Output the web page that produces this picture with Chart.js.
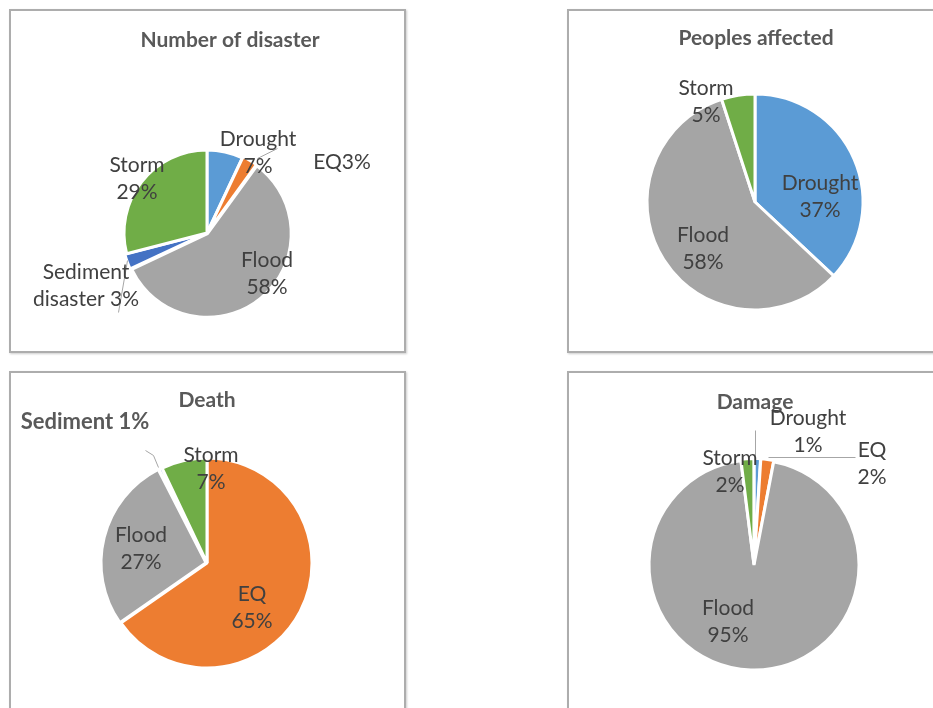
<!DOCTYPE html>
<html><head><meta charset="utf-8">
<script src="https://cdn.jsdelivr.net/npm/chart.js@4"></script>
<style>
html,body{margin:0;padding:0;background:#fff;width:933px;height:708px;overflow:hidden;position:relative}
.frame{position:absolute;border:2px solid #ADADAD;box-sizing:border-box;box-shadow:1px 1px 2px rgba(0,0,0,0.2)}
canvas{position:absolute}
</style></head><body>
<div class="frame" style="left:9px;top:9px;width:397px;height:344px"></div>
<div class="frame" style="left:567px;top:9px;width:400px;height:344px"></div>
<div class="frame" style="left:9px;top:371px;width:397px;height:400px"></div>
<div class="frame" style="left:567px;top:371px;width:400px;height:400px"></div>
<script>
// ---- data ----
const categories = ['Drought', 'EQ', 'Flood', 'Sediment disaster', 'Storm'];
const shortNames = ['Drought', 'EQ', 'Flood', 'Sediment', 'Storm'];
const numberOfDisasters = [7, 3, 58, 3, 29];
const peoplesAffected = [37, 0, 58, 0, 5];
const deaths = [0, 65, 27, 0.5, 7];
const damage = [1, 2, 95, 0, 2];
const titles = ['Number of disaster', 'Peoples affected', 'Death', 'Damage'];

// ---- style ----
const sliceColors = ['#5B9BD5', '#ED7D31', '#A5A5A5', '#4472C4', '#70AD47'];
const FONT = 'Lato, "Open Sans", sans-serif';

const panels = [
  { values: numberOfDisasters, title: titles[0], rect: [10, 10, 395, 342], center: [197, 223], r: 83,
    offsets: [0, 3, 3, 4, 0], titleAt: [23, -193],
    labels: [
      { i: 0, lines: ['{n}', '{p}'], at: [51, -80] },
      { i: 1, lines: ['{n}{p}'], at: [135, -71], leader: [[50, -75], [70, -85]] },
      { i: 2, lines: ['{n}', '{p}'], at: [60, 41] },
      { i: 3, lines: ['Sediment', 'disaster {p}'], at: [-121, 53], leader: [[-80, 27], [-89, 79]] },
      { i: 4, lines: ['{n}', '{p}'], at: [-70, -54] }
    ] },
  { values: peoplesAffected, title: titles[1], rect: [568, 10, 365, 342], center: [187, 192], r: 108,
    offsets: [0, 0, 0, 0, 0], titleAt: [1, -164],
    labels: [
      { i: 0, lines: ['{n}', '{p}'], at: [65, -5] },
      { i: 2, lines: ['{n}', '{p}'], at: [-52, 47] },
      { i: 4, lines: ['{n}', '{p}'], at: [-49, -100] }
    ] },
  { values: deaths, title: titles[2], rect: [10, 372, 395, 336], center: [197, 191], r: 105,
    offsets: [0, 0, 4, 0, 0], titleAt: [0, -163],
    labels: [
      { i: 1, lines: ['{n}', '{p}'], at: [45, 45] },
      { i: 2, lines: ['{n}', '{p}'], at: [-66, -14] },
      { i: 3, lines: ['{n} {p}'], at: [-122, -141], bold: true, leader: [[-62, -113], [-54, -108], [-49, -96]] },
      { i: 4, lines: ['{n}', '{p}'], at: [4, -94] }
    ] },
  { values: damage, title: titles[3], rect: [568, 372, 365, 336], center: [186, 193], r: 105,
    offsets: [3, 3, 0, 0, 3], titleAt: [1, -163],
    labels: [
      { i: 0, lines: ['{n}', '{p}'], at: [54, -133], leader: [[1, -135], [1, -110]] },
      { i: 1, lines: ['{n}', '{p}'], at: [118, -101], leader: [[14, -108], [101, -108]] },
      { i: 2, lines: ['{n}', '{p}'], at: [-26, 57] },
      { i: 4, lines: ['{n}', '{p}'], at: [-24, -93] }
    ] }
];

const labelPlugin = {
  id: 'pieLabels',
  afterDraw(chart) {
    const cfg = chart.options.plugins.pieLabels;
    const meta = chart.getDatasetMeta(0);
    const arc = meta.data[0];
    const cx = arc.x, cy = arc.y;
    const vals = chart.data.datasets[0].data;
    const total = vals.reduce((a, b) => a + b, 0);
    const ctx = chart.ctx;
    ctx.save();
    ctx.textAlign = 'center';
    ctx.textBaseline = 'middle';
    // title
    ctx.fillStyle = '#595959';
    ctx.font = 'bold 21px ' + FONT;
    ctx.fillText(cfg.title, cx + cfg.titleAt[0], cy + cfg.titleAt[1]);
    // leaders
    ctx.strokeStyle = '#A6A6A6';
    ctx.lineWidth = 1;
    cfg.labels.forEach(l => {
      if (!l.leader) return;
      ctx.beginPath();
      l.leader.forEach((p, k) => {
        const x = cx + p[0] + 0.5, y = cy + p[1] + 0.5;
        if (k === 0) ctx.moveTo(x, y); else ctx.lineTo(x, y);
      });
      ctx.stroke();
    });
    // labels
    const lh = 27;
    cfg.labels.forEach(l => {
      const pct = Math.round(vals[l.i] / total * 100) + '%';
      const name = shortNames[l.i];
      ctx.font = (l.bold ? 'bold 22px ' : '21px ') + FONT;
      ctx.fillStyle = l.bold ? '#595959' : '#404040';
      const n = l.lines.length;
      l.lines.forEach((t, k) => {
        const txt = t.replace('{n}', name).replace('{p}', pct);
        ctx.fillText(txt, cx + l.at[0], cy + l.at[1] + (k - (n - 1) / 2) * lh);
      });
    });
    ctx.restore();
  }
};

panels.forEach(p => {
  const [x0, y0, w, h] = p.rect;
  const cv = document.createElement('canvas');
  cv.width = w; cv.height = h;
  cv.style.left = x0 + 'px'; cv.style.top = y0 + 'px';
  cv.style.width = w + 'px'; cv.style.height = h + 'px';
  document.body.appendChild(cv);
  const m = 12;
  const [lx, ly] = p.center;
  new Chart(cv, {
    type: 'pie',
    data: {
      labels: categories,
      datasets: [{
        data: p.values,
        backgroundColor: sliceColors,
        borderColor: '#FFFFFF',
        borderWidth: 3,
        offset: p.offsets
      }]
    },
    options: {
      responsive: false,
      animation: false,
      devicePixelRatio: 1,
      radius: p.r,
      layout: { padding: { left: lx - p.r - m, right: w - lx - p.r - m, top: ly - p.r - m, bottom: h - ly - p.r - m } },
      plugins: {
        legend: { display: false },
        tooltip: { enabled: false },
        title: { display: false },
        pieLabels: { title: p.title, titleAt: p.titleAt, labels: p.labels }
      }
    },
    plugins: [labelPlugin]
  });
});
</script>
</body></html>
